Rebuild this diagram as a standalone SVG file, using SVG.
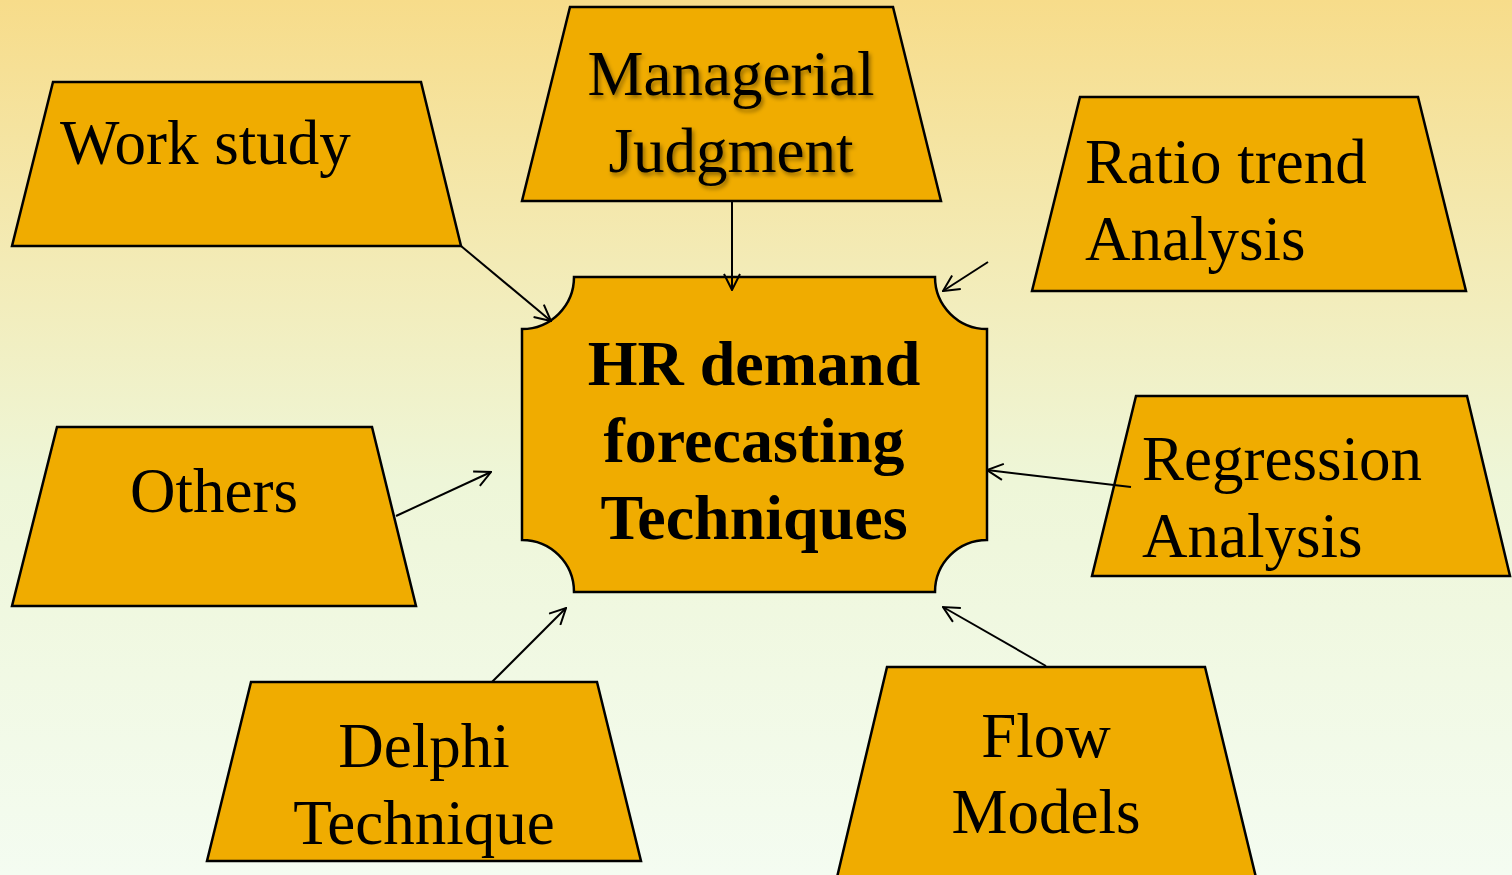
<svg xmlns="http://www.w3.org/2000/svg" width="1512" height="875" viewBox="0 0 1512 875">
  <defs>
    <linearGradient id="bg" x1="0" y1="0" x2="0" y2="1">
      <stop offset="0" stop-color="#F7DC8A"/>
      <stop offset="0.3" stop-color="#F3EBB6"/>
      <stop offset="0.55" stop-color="#EEF6D8"/>
      <stop offset="1" stop-color="#F4FCF1"/>
    </linearGradient>
    <marker id="arr" viewBox="0 0 18 18" refX="17" refY="9" markerWidth="18" markerHeight="18" markerUnits="userSpaceOnUse" orient="auto">
      <path d="M1,1 L17,9 L1,17" fill="none" stroke="#000" stroke-width="2"/>
    </marker>
    <filter id="shadow" x="-10%" y="-20%" width="120%" height="150%">
      <feDropShadow dx="2" dy="3" stdDeviation="2" flood-color="#000" flood-opacity="0.4"/>
    </filter>
    <style>
      .shape { fill: #F0AC00; stroke: #000; stroke-width: 2.5; stroke-linejoin: miter; }
      .t { font-family: "Liberation Serif", "Times New Roman", serif; font-size: 63px; fill: #000; }
      .c { text-anchor: middle; }
      .b { font-weight: bold; font-size: 64px; }
      .conn line { stroke: #000; stroke-width: 2; marker-end: url(#arr); }
    </style>
  </defs>
  <rect x="0" y="0" width="1512" height="875" fill="url(#bg)"/>

  <g id="center">
    <path class="shape" d="M574,277 L935,277 A52,52 0 0 0 987,329 L987,540 A52,52 0 0 0 935,592 L574,592 A52,52 0 0 0 522,540 L522,329 A52,52 0 0 0 574,277 Z"/>
    <text class="t c b" x="754" y="385">HR demand</text>
    <text class="t c b" x="754" y="462">forecasting</text>
    <text class="t c b" x="754" y="539">Techniques</text>
  </g>

  <g id="work-study">
    <path class="shape" d="M53,82 L421,82 L461,246 L12,246 Z"/>
    <text class="t" x="60" y="164">Work study</text>
  </g>

  <g id="managerial-judgment">
    <path class="shape" d="M570,7 L893,7 L941,201 L522,201 Z"/>
    <g filter="url(#shadow)">
      <text class="t c" x="731" y="95">Managerial</text>
      <text class="t c" x="731" y="172">Judgment</text>
    </g>
  </g>

  <g id="ratio-trend">
    <path class="shape" d="M1080,97 L1418,97 L1466,291 L1032,291 Z"/>
    <text class="t" x="1085" y="183">Ratio trend</text>
    <text class="t" x="1085" y="260">Analysis</text>
  </g>

  <g id="regression">
    <path class="shape" d="M1136,396 L1467,396 L1510,576 L1092,576 Z"/>
    <text class="t" x="1142" y="480">Regression</text>
    <text class="t" x="1142" y="557">Analysis</text>
  </g>

  <g id="others">
    <path class="shape" d="M57,427 L372,427 L416,606 L12,606 Z"/>
    <text class="t c" x="214" y="512">Others</text>
  </g>

  <g id="delphi">
    <path class="shape" d="M251,682 L597,682 L641,861 L207,861 Z"/>
    <text class="t c" x="424" y="767">Delphi</text>
    <text class="t c" x="424" y="844">Technique</text>
  </g>

  <g id="flow-models">
    <path class="shape" d="M887,667 L1205,667 L1259,890 L834,890 Z"/>
    <text class="t c" x="1046" y="757">Flow</text>
    <text class="t c" x="1046" y="833">Models</text>
  </g>

  <g id="connectors" class="conn">
    <line x1="461" y1="246" x2="551" y2="321"/>
    <line x1="732" y1="202" x2="732" y2="290"/>
    <line x1="988" y1="262" x2="943" y2="291"/>
    <line x1="396" y1="516" x2="491" y2="472"/>
    <line x1="492" y1="682" x2="566" y2="608"/>
    <line x1="1046" y1="666" x2="943" y2="607"/>
    <line x1="1131" y1="487" x2="987" y2="470"/>
  </g>
</svg>
